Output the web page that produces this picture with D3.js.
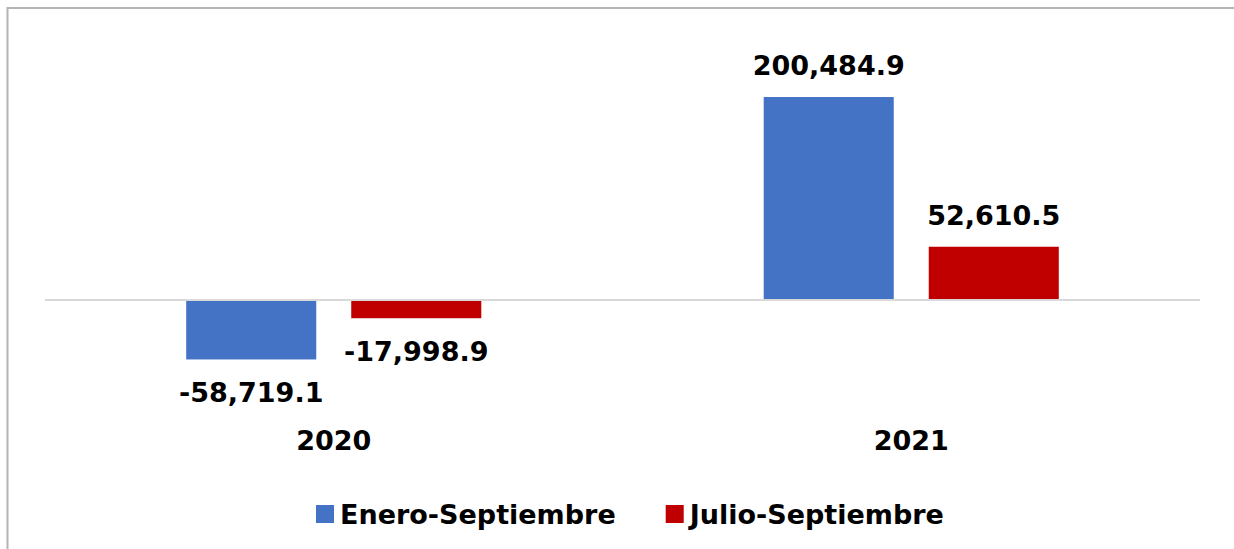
<!DOCTYPE html>
<html>
<head>
<meta charset="utf-8">
<script src="https://cdn.jsdelivr.net/npm/d3@7"></script>
<style>
  body { margin: 0; background: #fff; }
  text { font-family: "DejaVu Sans", sans-serif; font-weight: bold; fill: #000; }
</style>
</head>
<body>
<div id="chart"></div>
<script>
// chart data
const years = ["2020", "2021"];
const seriesNames = ["Enero-Septiembre", "Julio-Septiembre"];
const eneroSep = [-58719.1, 200484.9];
const julioSep = [-17998.9, 52610.5];
const seriesColors = ["#4472C4", "#C00000"];

const width = 1234;
const height = 549;

const svg = d3.select("#chart")
    .append("svg")
    .attr("width", width)
    .attr("height", height);

// outer frame (only top and left edges are visible)
svg.append("rect")
    .attr("x", 7.5)
    .attr("y", 8)
    .attr("width", 1300)
    .attr("height", 600)
    .style("fill", "none")
    .style("stroke", "#b4b4b4")
    .style("stroke-width", 2);

// scales
const x0 = d3.scaleBand()
    .domain(years)
    .range([45, 1200])
    .paddingInner(0.489)
    .paddingOuter(0.2445);

const x1 = d3.scaleBand()
    .domain(seriesNames)
    .range([0, x0.bandwidth()])
    .paddingInner(0.212);

const y = d3.scaleLinear()
    .domain([-100000, 250000])
    .range([401.25, 46.9]);

// build rows for the bars
const rows = [];
years.forEach((yr, i) => {
    rows.push({ year: yr, series: seriesNames[0], value: eneroSep[i], color: seriesColors[0] });
    rows.push({ year: yr, series: seriesNames[1], value: julioSep[i], color: seriesColors[1] });
});

// plain hyphen for negatives, like the original
const fmt = v => d3.format(",.1f")(v).replace("\u2212", "-");

// bars
svg.selectAll("rect.bar")
    .data(rows)
    .enter()
    .append("rect")
    .attr("class", "bar")
    .attr("x", d => x0(d.year) + x1(d.series))
    .attr("y", d => y(Math.max(0, d.value)))
    .attr("width", x1.bandwidth())
    .attr("height", d => Math.abs(y(d.value) - y(0)))
    .style("fill", d => d.color);

// zero line
svg.append("line")
    .attr("x1", 45)
    .attr("x2", 1200)
    .attr("y1", y(0))
    .attr("y2", y(0))
    .style("stroke", "#d9d9d9")
    .style("stroke-width", 2);

// value labels
svg.selectAll("text.value")
    .data(rows)
    .enter()
    .append("text")
    .attr("class", "value")
    .attr("x", d => x0(d.year) + x1(d.series) + x1.bandwidth() / 2)
    .attr("y", d => d.value >= 0 ? y(d.value) - 22 : y(d.value) + 43)
    .attr("text-anchor", "middle")
    .attr("font-size", "27px")
    .text(d => fmt(d.value));

// category labels
svg.selectAll("text.cat")
    .data(years)
    .enter()
    .append("text")
    .attr("class", "cat")
    .attr("x", d => x0(d) + x0.bandwidth() / 2)
    .attr("y", 450)
    .attr("text-anchor", "middle")
    .attr("font-size", "27px")
    .text(d => d);

// legend
const legend = svg.append("g");
let lx = 316;
seriesNames.forEach((name, i) => {
    legend.append("rect")
        .attr("x", lx)
        .attr("y", 505)
        .attr("width", 18)
        .attr("height", 18)
        .style("fill", seriesColors[i]);
    const t = legend.append("text")
        .attr("x", lx + 24)
        .attr("y", 524)
        .attr("font-size", "27px")
        .text(name);
    lx += 24 + t.node().getComputedTextLength() + 50;
});
</script>
</body>
</html>
